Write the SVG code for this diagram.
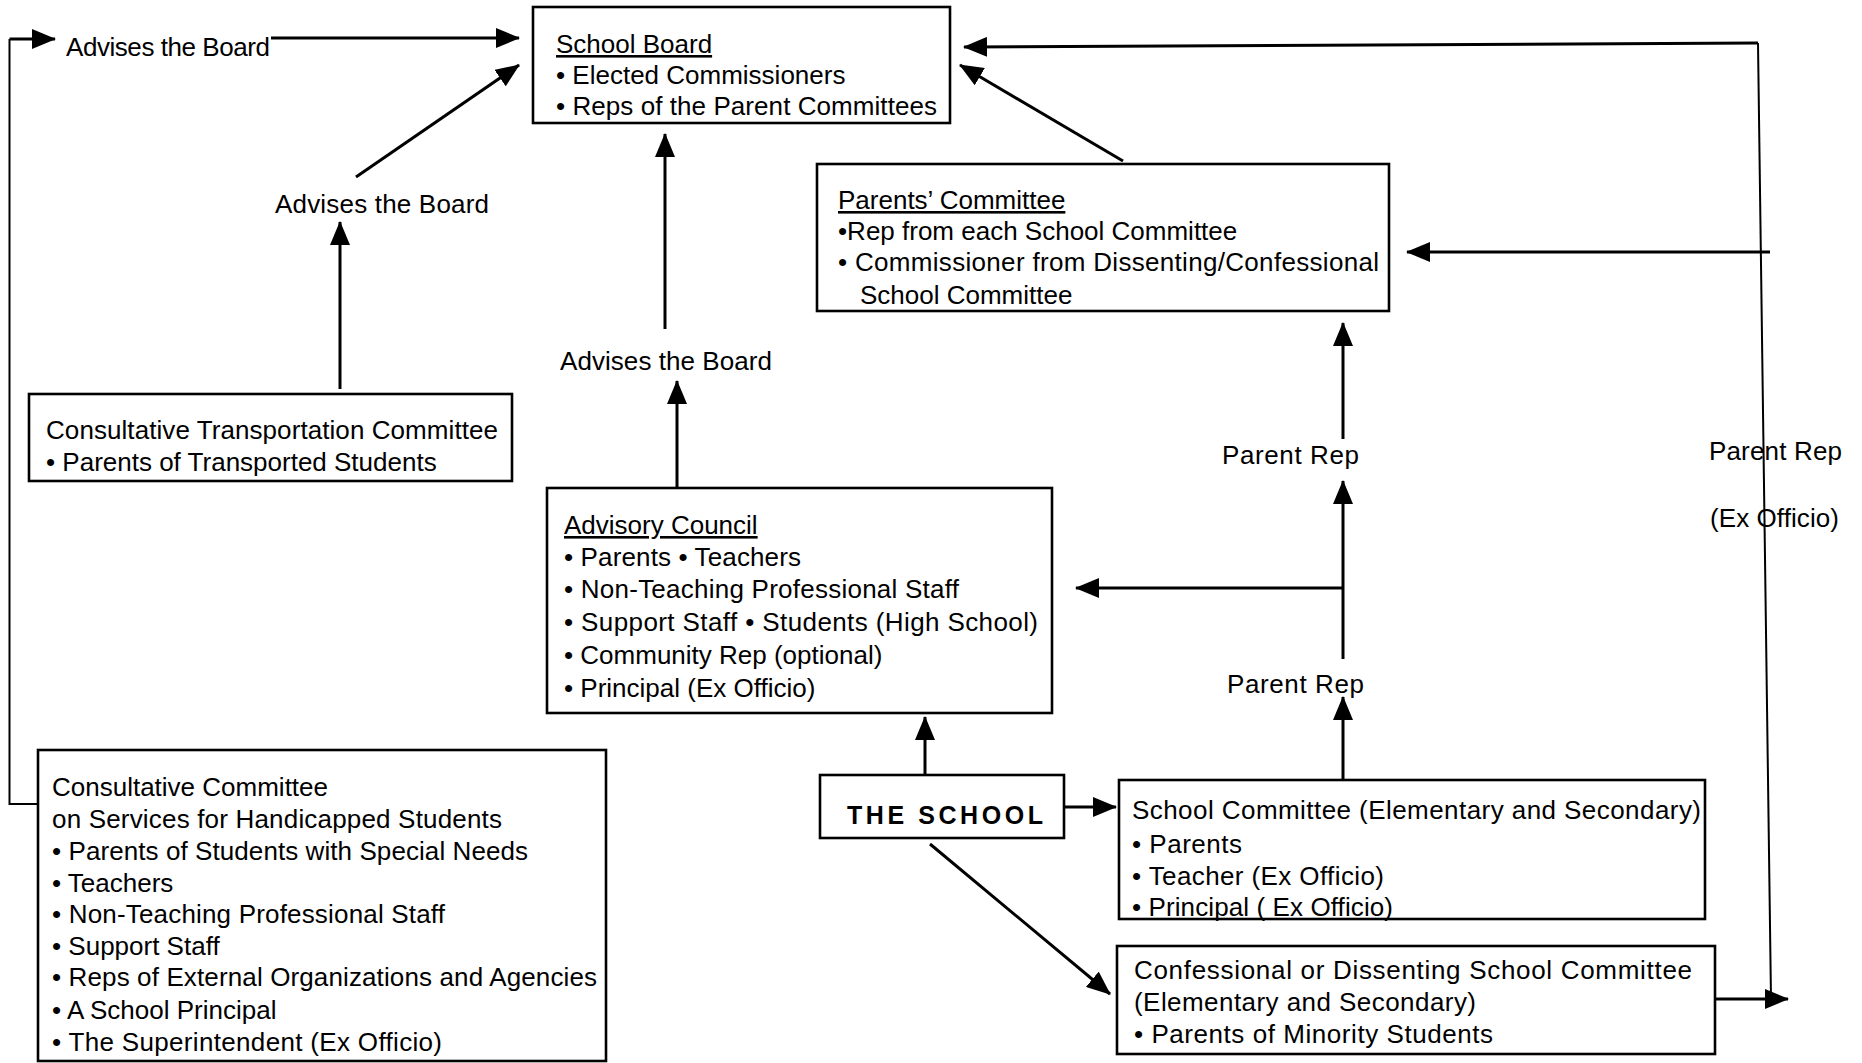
<svg xmlns="http://www.w3.org/2000/svg" width="1862" height="1063" viewBox="0 0 1862 1063">
<style>
text{font-family:"Liberation Sans",Arial,Helvetica,sans-serif;font-size:26px;fill:#000}
.box{fill:#fff;stroke:#000;stroke-width:2.6}
.u{text-decoration:underline}
.c{fill:none;stroke:#000;stroke-width:3}
.t{fill:none;stroke:#000;stroke-width:2}
.bold{font-weight:bold;letter-spacing:2px;font-size:25px}
</style>
<defs>
<marker id="ah" markerUnits="userSpaceOnUse" markerWidth="24" markerHeight="20" refX="23" refY="10" orient="auto">
<path d="M0,0 L24,10 L0,20 z" fill="#000"/>
</marker>
</defs>
<rect width="1862" height="1063" fill="#fff"/>
<g id="connectors">
<polyline class="t" points="38,804 9.5,804 9.5,39"/>
<line class="c" x1="9.5" y1="39" x2="55" y2="39" marker-end="url(#ah)"/>
<line class="c" x1="271" y1="38" x2="519" y2="38" marker-end="url(#ah)"/>
<line class="c" x1="356" y1="177" x2="519" y2="65" marker-end="url(#ah)"/>
<line class="c" x1="340" y1="389" x2="340" y2="222" marker-end="url(#ah)"/>
<line class="c" x1="665" y1="329" x2="665" y2="134" marker-end="url(#ah)"/>
<line class="c" x1="677" y1="487" x2="677" y2="381" marker-end="url(#ah)"/>
<line class="c" x1="1123" y1="161" x2="960" y2="65" marker-end="url(#ah)"/>
<line class="c" x1="1758" y1="43" x2="964" y2="47" marker-end="url(#ah)"/>
<line class="t" x1="1758" y1="43" x2="1771" y2="999"/>
<line class="c" x1="1770" y1="252" x2="1407" y2="252" marker-end="url(#ah)"/>
<line class="c" x1="1715" y1="999" x2="1788" y2="999" marker-end="url(#ah)"/>
<line class="c" x1="1343" y1="439" x2="1343" y2="323" marker-end="url(#ah)"/>
<line class="c" x1="1343" y1="659" x2="1343" y2="481" marker-end="url(#ah)"/>
<line class="c" x1="1343" y1="588" x2="1076" y2="588" marker-end="url(#ah)"/>
<line class="c" x1="1343" y1="781" x2="1343" y2="697" marker-end="url(#ah)"/>
<line class="c" x1="925" y1="774" x2="925" y2="717" marker-end="url(#ah)"/>
<line class="c" x1="1065" y1="807" x2="1116" y2="807" marker-end="url(#ah)"/>
<line class="c" x1="930" y1="844" x2="1110" y2="994" marker-end="url(#ah)"/>
</g>
<g id="labels">
<text x="66" y="56" textLength="204">Advises the Board</text>
<text x="275" y="213" textLength="214">Advises the Board</text>
<text x="560" y="370" textLength="212">Advises the Board</text>
<text x="1222" y="464" textLength="137">Parent Rep</text>
<text x="1227" y="693" textLength="137">Parent Rep</text>
<text x="1709" y="460" textLength="133">Parent Rep</text>
<text x="1710" y="527" textLength="129">(Ex Officio)</text>
</g>
<g id="school-board">
<rect class="box" x="533" y="7" width="417" height="116"/>
<text x="556" y="53" class="u">School Board</text>
<text x="556" y="84">• Elected Commissioners</text>
<text x="556" y="115" textLength="381">• Reps of the Parent Committees</text>
</g>
<g id="parents-committee">
<rect class="box" x="817" y="164" width="572" height="147"/>
<text x="838" y="209" class="u">Parents’ Committee</text>
<text x="838" y="240">•Rep from each School Committee</text>
<text x="838" y="271" textLength="541">• Commissioner from Dissenting/Confessional</text>
<text x="860" y="304">School Committee</text>
</g>
<g id="transportation-committee">
<rect class="box" x="29" y="394" width="483" height="87"/>
<text x="46" y="439" textLength="452">Consultative Transportation Committee</text>
<text x="46" y="471">• Parents of Transported Students</text>
</g>
<g id="advisory-council">
<rect class="box" x="547" y="488" width="505" height="225"/>
<text x="564" y="534" class="u">Advisory Council</text>
<text x="564" y="566" textLength="237">• Parents  • Teachers</text>
<text x="564" y="598" textLength="395">• Non-Teaching Professional Staff</text>
<text x="564" y="631" textLength="474">• Support Staff  • Students (High School)</text>
<text x="564" y="664">• Community Rep (optional)</text>
<text x="564" y="697">• Principal (Ex Officio)</text>
</g>
<g id="the-school">
<rect class="box" x="820" y="775" width="244" height="63"/>
<text x="847" y="824" class="bold" textLength="198">THE  SCHOOL</text>
</g>
<g id="school-committee">
<rect class="box" x="1119" y="780" width="586" height="139"/>
<text x="1132" y="819" textLength="569">School Committee (Elementary and Secondary)</text>
<text x="1132" y="853" textLength="110">• Parents</text>
<text x="1132" y="885" textLength="252">• Teacher (Ex Officio)</text>
<text x="1132" y="916" textLength="261">• Principal ( Ex Officio)</text>
</g>
<g id="dissenting-committee">
<rect class="box" x="1117" y="946" width="598" height="108"/>
<text x="1134" y="979" textLength="558">Confessional or  Dissenting School Committee</text>
<text x="1134" y="1011" textLength="342">(Elementary and Secondary)</text>
<text x="1134" y="1043" textLength="359">• Parents of Minority Students</text>
</g>
<g id="handicapped-committee">
<rect class="box" x="38" y="750" width="568" height="311"/>
<text x="52" y="796">Consultative Committee</text>
<text x="52" y="828" textLength="450">on Services for Handicapped Students</text>
<text x="52" y="860" textLength="476">• Parents of Students with Special Needs</text>
<text x="52" y="892">• Teachers</text>
<text x="52" y="923" textLength="393">• Non-Teaching Professional Staff</text>
<text x="52" y="955">• Support Staff</text>
<text x="52" y="986" textLength="545">• Reps of External Organizations and Agencies</text>
<text x="52" y="1019">• A School Principal</text>
<text x="52" y="1051" textLength="390">• The Superintendent (Ex Officio)</text>
</g>
</svg>
